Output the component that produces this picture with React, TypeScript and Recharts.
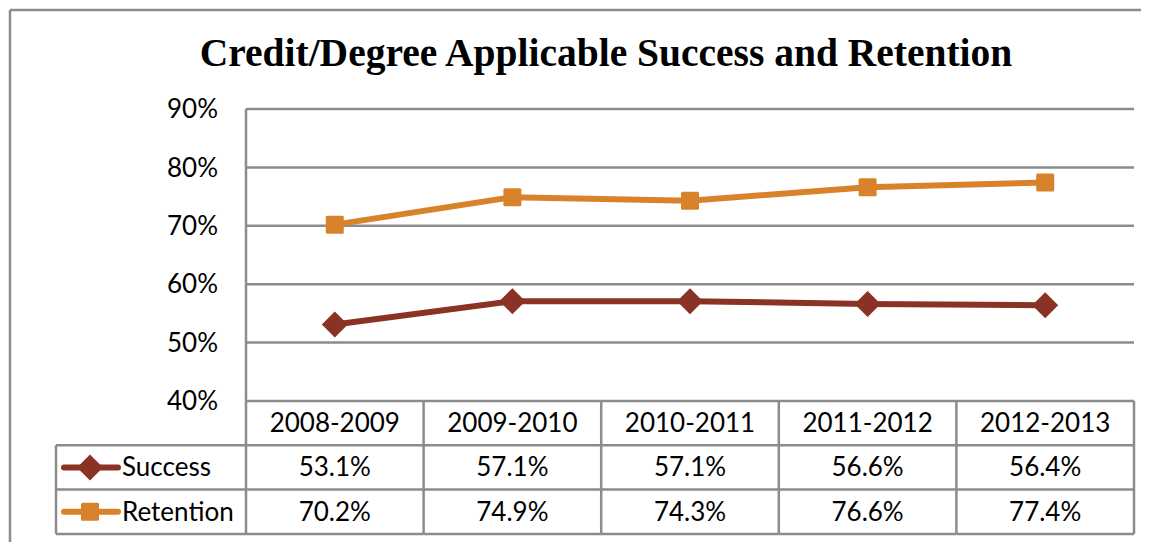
import React from "react";
import {
  LineChart,
  Line,
  XAxis,
  YAxis,
  CartesianGrid,
  Customized,
} from "recharts";

// school years along the bottom
const categories = ["2008-2009", "2009-2010", "2010-2011", "2011-2012", "2012-2013"];
// percent values per year
const successValues = [53.1, 57.1, 57.1, 56.6, 56.4];
const retentionValues = [70.2, 74.9, 74.3, 76.6, 77.4];
const yTicks = [40, 50, 60, 70, 80, 90];

const seriesNames = ["Success", "Retention"];

const SUCCESS = "#8a3223";
const RETENTION = "#d8832b";
const GRID = "#8c8c8c";
const FONT = "Lato, 'Open Sans', sans-serif";

const data = categories.map((year, i) => ({
  year,
  success: successValues[i],
  retention: retentionValues[i],
}));

const W = 1141;
const H = 534;
const ROW = 44.3;

function Diamond({ cx, cy, fill }: { cx: number; cy: number; fill: string }) {
  const r = 13;
  return (
    <polygon
      points={`${cx},${cy - r} ${cx + r},${cy} ${cx},${cy + r} ${cx - r},${cy}`}
      fill={fill}
    />
  );
}

function Square({ cx, cy, fill }: { cx: number; cy: number; fill: string }) {
  const s = 18;
  return <rect x={cx - s / 2} y={cy - s / 2} width={s} height={s} rx={1.5} fill={fill} />;
}

// each x tick draws its own column of the data table
function TableTick(props: any) {
  const { x, y, index, payload, width, visibleTicksCount } = props;
  const band = width && visibleTicksCount ? width / visibleTicksCount : 888 / 5;
  const left = x - band / 2;
  const right = x + band / 2;
  const r1 = y + ROW;
  const r2 = y + ROW * 2;
  const r3 = y + ROW * 3;
  const line = { stroke: GRID, strokeWidth: 2.5 };
  const txt = { fontFamily: FONT, fontSize: 26, fill: "#000", textAnchor: "middle" as const };
  const i = index ?? categories.indexOf(payload.value);

  const legendLeft = left - 190;
  return (
    <g>
      <line x1={left} y1={r1} x2={right} y2={r1} {...line} />
      <line x1={left} y1={r2} x2={right} y2={r2} {...line} />
      <line x1={left} y1={r3} x2={right} y2={r3} {...line} />
      <line x1={right} y1={y} x2={right} y2={r3} {...line} />
      <text x={x} y={y + ROW / 2 + 9} {...txt}>{payload.value}</text>
      <text x={x} y={r1 + ROW / 2 + 9} {...txt}>{successValues[i].toFixed(1)}%</text>
      <text x={x} y={r2 + ROW / 2 + 9} {...txt}>{retentionValues[i].toFixed(1)}%</text>
      {i === 0 && (
        <g>
          <line x1={left} y1={y} x2={left} y2={r3} {...line} />
          <line x1={legendLeft} y1={r1} x2={left} y2={r1} {...line} />
          <line x1={legendLeft} y1={r2} x2={left} y2={r2} {...line} />
          <line x1={legendLeft} y1={r3} x2={left} y2={r3} {...line} />
          <line x1={legendLeft} y1={r1} x2={legendLeft} y2={r3} {...line} />
          {/* legend keys */}
          <line x1={legendLeft + 8} y1={r1 + ROW / 2} x2={legendLeft + 62} y2={r1 + ROW / 2}
            stroke={SUCCESS} strokeWidth={6} strokeLinecap="round" />
          <Diamond cx={legendLeft + 34} cy={r1 + ROW / 2} fill={SUCCESS} />
          <line x1={legendLeft + 8} y1={r2 + ROW / 2} x2={legendLeft + 62} y2={r2 + ROW / 2}
            stroke={RETENTION} strokeWidth={6} strokeLinecap="round" />
          <Square cx={legendLeft + 34} cy={r2 + ROW / 2} fill={RETENTION} />
          <text x={legendLeft + 66} y={r1 + ROW / 2 + 9} {...txt} textAnchor="start">{seriesNames[0]}</text>
          <text x={legendLeft + 66} y={r2 + ROW / 2 + 9} {...txt} textAnchor="start">{seriesNames[1]}</text>
        </g>
      )}
    </g>
  );
}

function Frame() {
  return (
    <g>
      <line x1={2} y1={2} x2={W} y2={2} stroke={GRID} strokeWidth={2.5} />
      <line x1={2} y1={2} x2={2} y2={H} stroke={GRID} strokeWidth={2.5} />
      <text
        x={598}
        y={58}
        textAnchor="middle"
        fontFamily="'Liberation Serif', serif"
        fontWeight={700}
        fontSize={39.5}
        fill="#000"
      >
        Credit/Degree Applicable Success and Retention
      </text>
    </g>
  );
}

export default function App() {
  return (
    <LineChart
      width={W}
      height={H}
      data={data}
      margin={{ top: 101, right: 15, left: 0, bottom: 0 }}
      style={{ fontFamily: FONT }}
    >
      <CartesianGrid vertical={false} stroke={GRID} strokeWidth={2.5} />
      <XAxis
        dataKey="year"
        scale="band"
        height={141}
        axisLine={false}
        tickLine={false}
        tickSize={0}
        tickMargin={0}
        interval={0}
        tick={<TableTick />}
      />
      <YAxis
        width={238}
        domain={[40, 90]}
        ticks={yTicks}
        tickFormatter={(v: number) => `${v}%`}
        axisLine={{ stroke: GRID, strokeWidth: 2.5 }}
        tickLine={false}
        tickMargin={22}
        tick={{ fontSize: 26, fill: "#000", fontFamily: FONT }}
      />
      <Line
        dataKey="success"
        stroke={SUCCESS}
        strokeWidth={6}
        isAnimationActive={false}
        dot={(p: any) => <Diamond key={`s${p.index}`} cx={p.cx} cy={p.cy} fill={SUCCESS} />}
      />
      <Line
        dataKey="retention"
        stroke={RETENTION}
        strokeWidth={6}
        isAnimationActive={false}
        dot={(p: any) => <Square key={`r${p.index}`} cx={p.cx} cy={p.cy} fill={RETENTION} />}
      />
      <Customized component={<Frame />} />
    </LineChart>
  );
}
